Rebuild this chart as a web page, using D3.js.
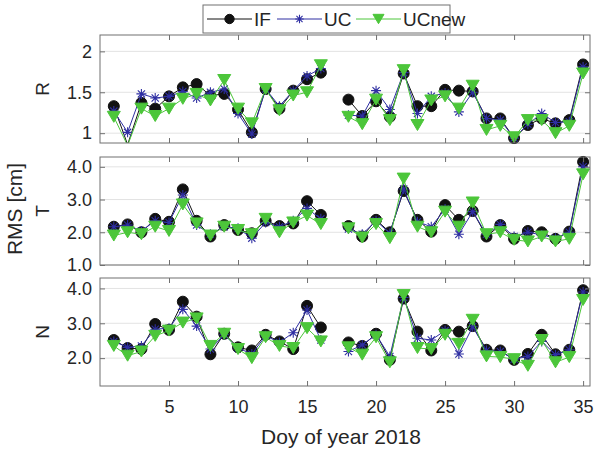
<!DOCTYPE html>
<html lang="en">
<head>
<meta charset="UTF-8">
<title>RMS per day</title>
<script src="https://d3js.org/d3.v7.min.js"></script>
<style>
  body { margin: 0; background: #fff; }
  text { font-family: "Liberation Sans", Arial, sans-serif; fill: #262626; }
  .grid line { stroke: #e3e3e3; stroke-width: 1px; }
  .frame { fill: none; stroke: #707070; stroke-width: 1px; }
  .tick line { stroke: #707070; }
</style>
</head>
<body>
<script>
// data (day 17 missing)
const days = [1, 2, 3, 4, 5, 6, 7, 8, 9, 10, 11, 12, 13, 14, 15, 16, 17, 18, 19, 20,
  21, 22, 23, 24, 25, 26, 27, 28, 29, 30, 31, 32, 33, 34, 35];
const xTicks = [5, 10, 15, 20, 25, 30, 35];
const seriesNames = ["IF", "UC", "UCnew"];
const panelNames = ["R", "T", "N"];

const rIF = [1.33, 0.86, 1.37, 1.30, 1.45, 1.56, 1.60, 1.46, 1.48, 1.29, 1.01, 1.54, 1.30, 1.52, 1.66, 1.74, null,
  1.41, 1.21, 1.39, 1.20, 1.73, 1.33, 1.33, 1.53, 1.52, 1.51, 1.18, 1.18, 0.94, 1.10, 1.18, 1.12, 1.16, 1.84];
const rUC = [1.27, 1.01, 1.48, 1.43, 1.45, 1.51, 1.43, 1.50, 1.54, 1.24, 0.99, 1.54, 1.33, 1.52, 1.70, 1.79, null,
  1.22, 1.21, 1.52, 1.29, 1.74, 1.24, 1.45, 1.49, 1.26, 1.50, 1.18, 1.16, 0.94, 1.11, 1.24, 1.13, 1.14, 1.81];
const rUCnew = [1.20, 0.85, 1.30, 1.21, 1.30, 1.42, 1.48, 1.40, 1.65, 1.30, 1.12, 1.54, 1.28, 1.46, 1.50, 1.83, null,
  1.20, 1.11, 1.41, 1.16, 1.77, 1.10, 1.40, 1.45, 1.30, 1.58, 1.04, 1.09, 0.95, 1.16, 1.16, 1.00, 1.09, 1.73];

const tIF = [2.17, 2.24, 2.00, 2.41, 2.32, 3.31, 2.35, 1.87, 2.22, 2.07, 1.97, 2.35, 2.19, 2.27, 2.95, 2.53, null,
  2.19, 1.87, 2.38, 2.00, 3.26, 2.38, 2.02, 2.83, 2.38, 2.65, 1.87, 2.22, 1.80, 2.04, 2.00, 1.80, 2.02, 4.15];
const tUC = [2.17, 2.22, 2.04, 2.35, 2.30, 3.14, 2.22, 1.94, 2.17, 2.12, 1.82, 2.30, 2.17, 2.35, 2.73, 2.41, null,
  2.10, 1.94, 2.35, 1.97, 3.32, 2.32, 2.17, 2.71, 1.94, 2.63, 1.94, 2.24, 1.87, 2.00, 1.92, 1.82, 2.00, 4.00];
const tUCnew = [1.90, 2.00, 1.94, 2.17, 2.04, 2.85, 2.27, 1.90, 2.17, 2.07, 1.94, 2.41, 2.00, 2.30, 2.51, 2.25, null,
  2.12, 1.84, 2.25, 1.82, 3.64, 2.17, 2.00, 2.63, 2.17, 2.91, 1.94, 2.00, 1.77, 1.72, 1.87, 1.72, 1.80, 3.77];

const nIF = [2.52, 2.29, 2.26, 2.98, 2.81, 3.62, 3.19, 2.11, 2.70, 2.31, 2.22, 2.67, 2.48, 2.26, 3.50, 2.88, null,
  2.45, 2.35, 2.70, 1.95, 3.71, 2.76, 2.22, 2.81, 2.76, 2.92, 2.24, 2.22, 1.95, 2.12, 2.67, 2.11, 2.24, 3.95];
const nUC = [2.48, 2.31, 2.35, 2.83, 2.86, 3.40, 2.92, 2.26, 2.67, 2.29, 2.12, 2.64, 2.45, 2.73, 3.38, 2.52, null,
  2.19, 2.38, 2.67, 2.05, 3.74, 2.57, 2.52, 2.79, 2.12, 2.90, 2.22, 2.19, 1.97, 2.05, 2.48, 2.10, 2.24, 3.90];
const nUCnew = [2.35, 2.07, 2.19, 2.64, 2.79, 3.02, 3.14, 2.35, 2.70, 2.26, 2.00, 2.60, 2.35, 2.29, 2.86, 2.48, null,
  2.31, 2.10, 2.60, 1.88, 3.81, 2.29, 2.26, 2.67, 2.41, 3.10, 2.05, 2.03, 1.97, 1.78, 2.52, 1.88, 2.03, 3.67];

const yDomains = [[0.88, 2.2], [1, 4.3], [1.2, 4.3]];
const yTicks = [[1, 1.5, 2], [1, 2, 3, 4], [2, 3, 4]];
const yFormats = [d3.format(""), d3.format(".1f"), d3.format(".1f")];
const panelData = [[rIF, rUC, rUCnew], [tIF, tUC, tUCnew], [nIF, nUC, nUCnew]];

// layout
const W = 596, H = 453;
const left = 100, right = 590;
const panelTops = [35, 157, 278], panelH = 108;
const colors = ["#111111", "#2e2ea2", "#4cc63a"];

const svg = d3.select("body").append("svg")
  .attr("width", W).attr("height", H);

const x = d3.scaleLinear().domain([0, 35.5]).range([left, right]);

function drawMarker(g, type, cx, cy, scale) {
  const s = scale || 1;
  if (type === 0) {
    g.append("circle").attr("cx", cx).attr("cy", cy).attr("r", 5.5 * s)
      .attr("fill", colors[0]).attr("stroke", colors[0]);
  } else if (type === 1) {
    const r = 5 * s, d = r * 0.72;
    g.append("path")
      .attr("d", `M${cx - r},${cy}H${cx + r}M${cx},${cy - r}V${cy + r}` +
        `M${cx - d},${cy - d}L${cx + d},${cy + d}M${cx - d},${cy + d}L${cx + d},${cy - d}`)
      .attr("stroke", colors[1]).attr("stroke-width", 1.1).attr("fill", "none");
  } else {
    const w = 6.5 * s, h = 11 * s;
    g.append("path")
      .attr("d", `M${cx - w},${cy - h / 2}L${cx + w},${cy - h / 2}L${cx},${cy + h / 2}Z`)
      .attr("fill", colors[2]).attr("stroke", colors[2]);
  }
}

panelNames.forEach((name, p) => {
  const top = panelTops[p], bottom = top + panelH;
  const y = d3.scaleLinear().domain(yDomains[p]).range([bottom, top]);
  const g = svg.append("g");

  // white background + grid
  g.append("rect").attr("x", left).attr("y", top)
    .attr("width", right - left).attr("height", panelH).attr("fill", "#fff");
  g.append("g").attr("class", "grid")
    .selectAll("line").data(yTicks[p]).join("line")
    .attr("x1", left).attr("x2", right)
    .attr("y1", d => y(d)).attr("y2", d => y(d));

  // clip for lines
  const clipId = "clip" + p;
  svg.append("clipPath").attr("id", clipId).append("rect")
    .attr("x", left).attr("y", top).attr("width", right - left).attr("height", panelH);

  const line = d3.line()
    .defined(d => d[1] !== null)
    .x(d => x(d[0])).y(d => y(d[1]));

  panelData[p].forEach((vals, s) => {
    const pts = days.map((d, i) => [d, vals[i]]);
    g.append("path").attr("clip-path", `url(#${clipId})`)
      .attr("d", line(pts))
      .attr("fill", "none").attr("stroke", colors[s]).attr("stroke-width", 1);
    const mg = g.append("g");
    pts.filter(d => d[1] !== null && d[1] >= yDomains[p][0] && d[1] <= yDomains[p][1])
      .forEach(d => drawMarker(mg, s, x(d[0]), y(d[1])));
  });

  // axes: ticks inward
  const axB = d3.axisBottom(x).tickValues(xTicks).tickSize(-5).tickFormat(p === 2 ? d3.format("") : "");
  const axT = d3.axisTop(x).tickValues(xTicks).tickSize(-5).tickFormat("");
  const axL = d3.axisLeft(y).tickValues(yTicks[p]).tickSize(-5).tickFormat(yFormats[p]);
  const axR = d3.axisRight(y).tickValues(yTicks[p]).tickSize(-5).tickFormat("");
  [[axB, `translate(0,${bottom})`], [axT, `translate(0,${top})`],
   [axL, `translate(${left},0)`], [axR, `translate(${right},0)`]].forEach(([ax, tr]) => {
    const a = g.append("g").attr("transform", tr).call(ax);
    a.select(".domain").remove();
    a.selectAll("text").style("font-size", "18px")
      .style("font-family", "Liberation Sans, Arial, sans-serif").attr("fill", "#262626");
  });

  g.append("rect").attr("class", "frame")
    .attr("x", left).attr("y", top).attr("width", right - left).attr("height", panelH);

  // panel name
  g.append("text")
    .attr("transform", `translate(49,${(top + bottom) / 2}) rotate(-90)`)
    .attr("text-anchor", "middle")
    .style("font-size", "19px")
    .text(name);
});

// tick label spacing tweaks
svg.selectAll(".tick text").each(function () {
  const t = d3.select(this);
  if (t.attr("x") !== null && +t.attr("x") < 0) t.attr("x", -8);
  if (t.attr("y") !== null && +t.attr("y") > 0) t.attr("y", 14);
});

// axis titles
svg.append("text")
  .attr("transform", `translate(22,209) rotate(-90)`)
  .attr("text-anchor", "middle")
  .style("font-size", "21px")
  .text("RMS [cm]");

svg.append("text")
  .attr("x", (left + right) / 2 - 4).attr("y", 444)
  .attr("text-anchor", "middle")
  .style("font-size", "21px")
  .text("Doy of year 2018");

// legend
const lg = svg.append("g");
lg.append("rect").attr("x", 203).attr("y", 5).attr("width", 247).attr("height", 28)
  .attr("fill", "#fff").attr("stroke", "#707070");
const legX = [207, 277, 356];
seriesNames.forEach((nm, s) => {
  const x0 = legX[s];
  lg.append("line").attr("x1", x0).attr("x2", x0 + 45).attr("y1", 19).attr("y2", 19)
    .attr("stroke", colors[s]).attr("stroke-width", 1);
  drawMarker(lg, s, x0 + 22.5, 19, 0.85);
  lg.append("text").attr("x", x0 + 47).attr("y", 26)
    .style("font-size", "19px").text(nm);
});
</script>
</body>
</html>
